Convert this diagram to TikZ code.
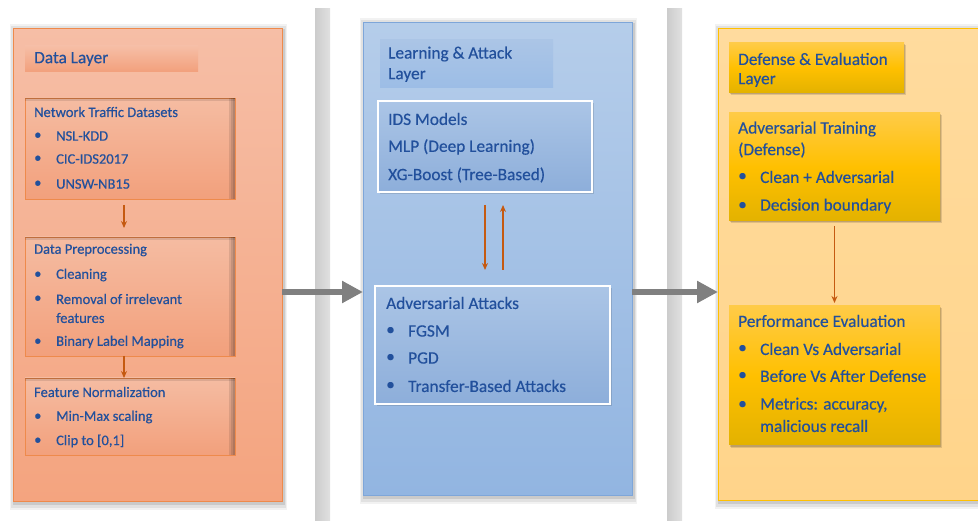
\documentclass[tikz,border=0pt]{standalone}
\usepackage{fontspec}
\setmainfont{Carlito}[FakeBold=0.4]
\usetikzlibrary{shadows,arrows.meta}
\definecolor{tblue}{HTML}{22509C}
\definecolor{oarr}{HTML}{C55A11}
\definecolor{garr}{HTML}{808080}
\definecolor{lpTop}{HTML}{F6BEA6}
\definecolor{lpBot}{HTML}{F4A47F}
\definecolor{lpDraw}{HTML}{EE8A4C}
\definecolor{lbTop}{HTML}{F5BCA2}
\definecolor{lbBot}{HTML}{F2A07C}
\definecolor{mpTop}{HTML}{B5CDEA}
\definecolor{mpBot}{HTML}{92B5E1}
\definecolor{mpDraw}{HTML}{7EA6D9}
\definecolor{mbTop}{HTML}{ABC5E6}
\definecolor{mbBot}{HTML}{8DAEDA}
\definecolor{mtBot}{HTML}{9CBDE6}
\definecolor{rpTop}{HTML}{FFDB9E}
\definecolor{rpBot}{HTML}{FFD48A}
\definecolor{rpDraw}{HTML}{FFC000}
\definecolor{gTop}{HTML}{FFCB47}
\definecolor{gMid}{HTML}{FFC000}
\definecolor{gBot}{HTML}{E3B200}
\tikzset{
  corner/.style={anchor=north west, inner sep=0pt, outer sep=0pt},
  blur/.style={
    general shadow={shadow xshift=1pt, shadow yshift=-2pt, shadow scale=1.03, fill=black, opacity=0.05},
    general shadow={shadow xshift=1pt, shadow yshift=-2pt, shadow scale=1.02, fill=black, opacity=0.07},
    general shadow={shadow xshift=1.5pt, shadow yshift=-2pt, shadow scale=1.01, fill=black, opacity=0.1}},
  smallblur/.style={
    general shadow={shadow xshift=2pt, shadow yshift=-2.5pt, fill=black, opacity=0.12},
    general shadow={shadow xshift=1pt, shadow yshift=-1.5pt, fill=black, opacity=0.15}},
  panelL/.style={corner, blur, draw=lpDraw, line width=1pt, top color=lpTop, bottom color=lpBot},
  panelM/.style={corner, blur, draw=mpDraw, line width=1pt, top color=mpTop, bottom color=mpBot},
  panelR/.style={corner, blur, draw=rpDraw, line width=1pt, top color=rpTop, bottom color=rpBot},
  ltitle/.style={corner, top color=lpTop, bottom color=lbBot},
  lbox/.style={corner, draw=lpDraw, line width=0.8pt, top color=lbTop, bottom color=lbBot},
  inshad/.style={fill=black, opacity=0.1},
  mtitle/.style={corner, top color=mbTop, bottom color=mtBot},
  mbox/.style={corner, smallblur, draw=white, line width=2.5pt, top color=mbTop, bottom color=mbBot},
  gbox/.style={corner, smallblur, top color=gTop, bottom color=gBot, middle color=gMid},
  bar/.style={corner, left color=black!20, middle color=black!8, right color=black!12},
  txs/.style={anchor=west, inner sep=0pt, text=tblue, font=\fontsize{14.5}{17}\selectfont},
  txl/.style={anchor=west, inner sep=0pt, text=tblue, font=\fontsize{17.3}{20}\selectfont},
  oarrow/.style={draw=oarr, line width=1.3pt, -{Stealth[length=7pt,width=6pt]}},
  garrow/.style={draw=garr, line width=6pt, -{Triangle[length=21pt,width=21pt]}},
}
\newcommand{\innershadow}[1]{%
  \foreach \w in {6,4,2} {\fill[inshad] ([xshift=-\w pt]#1.north east) rectangle (#1.south east);}
  \foreach \w in {3,1.5} {\fill[inshad] (#1.north west) rectangle ([yshift=-\w pt]#1.north east);}
}
\begin{document}
\begin{tikzpicture}[x=1pt,y=-1pt]
\useasboundingbox (0,0) rectangle (978,521);
\clip (0,0) rectangle (978,521);
% gray bars
\node[bar, minimum width=15pt, minimum height=520pt] (bar1) at (315,9) {};
\node[bar, minimum width=15pt, minimum height=520pt] (bar2) at (667,9) {};
% panels
\node[panelL, minimum width=269pt, minimum height=472pt] (left) at (13,29) {};
\node[panelM, minimum width=269pt, minimum height=472pt] (mid) at (363,23) {};
\node[panelR, minimum width=280pt, minimum height=471pt] (right) at (718,29) {};
% ---------- left ----------
\node[ltitle, minimum width=173pt, minimum height=26pt] (dlt) at (25,46) {};
\node[txl] (dltx) at (34,59) {Data Layer};

\node[lbox, minimum width=210pt, minimum height=101pt] (nt) at (25,98) {};
\innershadow{nt}
\node[txs] (nt0) at (34,112) {Network Traffic Datasets};
\node[txs] (nt1b) at (34,136) {•};
\node[txs] (nt1) at (56,136) {NSL-KDD};
\node[txs] (nt2b) at (34,159) {•};
\node[txs] (nt2) at (56,159) {CIC-IDS2017};
\node[txs] (nt3b) at (34,184) {•};
\node[txs] (nt3) at (56,184) {UNSW-NB15};

\node[lbox, minimum width=210pt, minimum height=119pt] (pre) at (25,237) {};
\innershadow{pre}
\node[txs] (pre0) at (34,250) {Data Preprocessing};
\node[txs] (pre1b) at (34,275) {•};
\node[txs] (pre1) at (56,275) {Cleaning};
\node[txs] (pre2b) at (34,299) {•};
\node[txs] (pre2) at (56,299) {Removal of irrelevant};
\node[txs] (pre2c) at (56,318) {features};
\node[txs] (pre3b) at (34,342) {•};
\node[txs] (pre3) at (56,342) {Binary Label Mapping};

\node[lbox, minimum width=210pt, minimum height=77pt] (fn) at (25,378) {};
\innershadow{fn}
\node[txs] (fn0) at (34,392) {Feature Normalization};
\node[txs] (fn1b) at (34,417) {•};
\node[txs] (fn1) at (56,417) {Min-Max scaling};
\node[txs] (fn2b) at (34,441) {•};
\node[txs] (fn2) at (56,441) {Clip to [0,1]};

\draw[oarrow, shorten <=6pt, shorten >=9pt] ([xshift=-6pt]nt.south) -- ([xshift=-6pt]pre.north);
\draw[oarrow] ([xshift=-6pt]pre.south) -- ([xshift=-6pt]fn.north);
% ---------- middle ----------
\node[mtitle, minimum width=173pt, minimum height=48pt] (mlt) at (380,40) {};
\node[txl] (mlt1) at (388,54) {Learning \& Attack};
\node[txl] (mlt2) at (388,75) {Layer};

\node[mbox, minimum width=214pt, minimum height=91pt] (ids) at (378,101) {};
\node[txl] (ids0) at (388,119) {IDS Models};
\node[txl] (ids1) at (388,147) {MLP (Deep Learning)};
\node[txl] (ids2) at (388,175) {XG-Boost (Tree-Based)};

\node[mbox, minimum width=235pt, minimum height=118pt] (adv) at (375,286) {};
\node[txl] (adv0) at (386,303) {Adversarial Attacks};
\node[txl] (adv1b) at (386,331) {•};
\node[txl] (adv1) at (408,331) {FGSM};
\node[txl] (adv2b) at (386,358) {•};
\node[txl] (adv2) at (408,358) {PGD};
\node[txl] (adv3b) at (386,386) {•};
\node[txl] (adv3) at (408,386) {Transfer-Based Attacks};

\draw[oarrow, shorten <=13pt, shorten >=16pt] (ids.south) -- (ids.south |- adv.north);
\draw[oarrow, shorten <=16pt, shorten >=13pt] ([xshift=18pt]ids.south |- adv.north) -- ([xshift=18pt]ids.south);
% ---------- right ----------
\node[gbox, minimum width=175pt, minimum height=50pt] (drt) at (729,43) {};
\node[txl] (drt1) at (738,59) {Defense \& Evaluation};
\node[txl] (drt2) at (738,80) {Layer};

\node[gbox, minimum width=211pt, minimum height=108pt] (at) at (729,113) {};
\node[txl] (at0) at (738,129) {Adversarial Training};
\node[txl] (at0b) at (738,150) {(Defense)};
\node[txl] (at1b) at (738,177) {•};
\node[txl] (at1) at (760,177) {Clean + Adversarial};
\node[txl] (at2b) at (738,206) {•};
\node[txl] (at2) at (760,206) {Decision boundary};

\node[gbox, minimum width=211pt, minimum height=139pt] (pe) at (729,306) {};
\node[txl] (pe0) at (738,321) {Performance Evaluation};
\node[txl] (pe1b) at (738,349) {•};
\node[txl] (pe1) at (760,349) {Clean Vs Adversarial};
\node[txl] (pe2b) at (738,376) {•};
\node[txl] (pe2) at (760,376) {Before Vs After Defense};
\node[txl] (pe3b) at (738,405) {•};
\node[txl] (pe3) at (760,405) {Metrics: accuracy,};
\node[txl] (pe3c) at (760,426) {malicious recall};

\draw[oarrow, shorten <=5pt, shorten >=3pt] (at.south) -- (pe.north);
% ---------- big gray arrows ----------
\coordinate (gy) at (0,292);
\draw[garrow] (left.east |- gy) -- (mid.west |- gy);
\draw[garrow] (mid.east |- gy) -- (right.west |- gy);
\end{tikzpicture}
\end{document}
